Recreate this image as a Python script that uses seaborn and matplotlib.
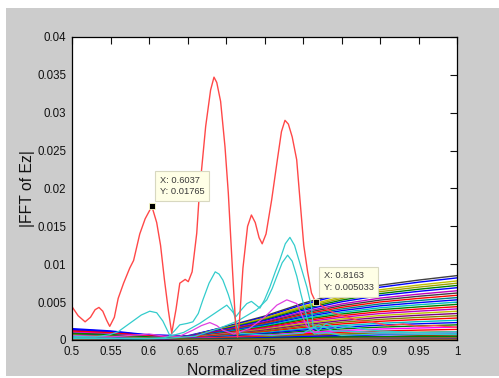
import matplotlib
matplotlib.use("Agg")
import matplotlib.pyplot as plt
from matplotlib.patches import Rectangle
import pandas as pd
import seaborn as sns

# ---------------- data ----------------
# strongest component (red)
red_x = [0.500, 0.508, 0.517, 0.524, 0.530, 0.535, 0.540, 0.545, 0.549, 0.555,
         0.560, 0.567, 0.575, 0.580, 0.588, 0.595, 0.6037, 0.610, 0.615, 0.620,
         0.625, 0.6295, 0.635, 0.640, 0.647, 0.651, 0.656, 0.662, 0.6654, 0.6736,
         0.680, 0.6844, 0.688, 0.693, 0.6987, 0.703, 0.708, 0.7125, 0.715, 0.7175,
         0.722, 0.728, 0.733, 0.738, 0.743, 0.747, 0.752, 0.7593, 0.7667, 0.772,
         0.7766, 0.781, 0.786, 0.7918, 0.7961, 0.801, 0.806, 0.811, 0.8163, 0.825,
         0.839, 0.855, 0.874, 0.890, 0.910, 0.930, 0.950, 0.970, 1.000]
red_y = [0.0044, 0.0032, 0.0024, 0.0030, 0.0040, 0.0043, 0.0038, 0.0026, 0.0018, 0.0030,
         0.0055, 0.0075, 0.0095, 0.0105, 0.0140, 0.0160, 0.01765, 0.0155, 0.0125, 0.0080,
         0.0040, 0.0009, 0.0040, 0.0075, 0.0080, 0.0077, 0.0090, 0.0141, 0.0194, 0.0282,
         0.0330, 0.0347, 0.0340, 0.0315, 0.0255, 0.0194, 0.0100, 0.0020, 0.0004, 0.0025,
         0.0095, 0.0150, 0.0165, 0.0155, 0.0135, 0.0127, 0.0140, 0.0185, 0.0238, 0.0275,
         0.0290, 0.0285, 0.0268, 0.0238, 0.0185, 0.0125, 0.0090, 0.0062, 0.005033, 0.0045,
         0.0036, 0.0031, 0.0025, 0.0024, 0.0019, 0.0021, 0.0018, 0.0019, 0.0017]

# cyan components
cyan_a_x = [0.500, 0.530, 0.549, 0.560, 0.575, 0.590, 0.601, 0.610, 0.618, 0.627,
            0.633, 0.640, 0.650, 0.657, 0.664, 0.670, 0.678, 0.686, 0.691, 0.696,
            0.703, 0.709, 0.714, 0.718, 0.730, 0.760, 0.800, 0.820, 0.840, 0.900, 1.000]
cyan_a_y = [0.0005, 0.0004, 0.0007, 0.0011, 0.0022, 0.0033, 0.0038, 0.0036, 0.0025, 0.0006,
            0.0012, 0.0020, 0.0022, 0.0024, 0.0035, 0.0053, 0.0075, 0.0090, 0.0087, 0.0079,
            0.0060, 0.0040, 0.0020, 0.0009, 0.0008, 0.0006, 0.0009, 0.0020, 0.0012, 0.0010, 0.0009]

cyan_b_x = [0.500, 0.600, 0.620, 0.645, 0.666, 0.685, 0.701, 0.708, 0.713, 0.720,
            0.727, 0.733, 0.738, 0.744, 0.750, 0.757, 0.764, 0.770, 0.777, 0.783,
            0.789, 0.796, 0.805, 0.811, 0.813, 0.820, 0.830, 0.845, 0.860, 0.880,
            0.900, 0.950, 1.000]
cyan_b_y = [0.0003, 0.0002, 0.0003, 0.0010, 0.0022, 0.0035, 0.0046, 0.0038, 0.0031, 0.0040,
            0.0048, 0.0051, 0.0047, 0.0042, 0.0053, 0.0070, 0.0090, 0.0106, 0.0127, 0.01355,
            0.0125, 0.0101, 0.0070, 0.0044, 0.0018, 0.0012, 0.0022, 0.0015, 0.0018, 0.0014,
            0.0012, 0.0010, 0.0011]

cyan_c_x = [0.500, 0.620, 0.660, 0.690, 0.715, 0.740, 0.753, 0.760, 0.766, 0.773,
            0.780, 0.786, 0.792, 0.797, 0.8026, 0.809, 0.815, 0.830, 0.850, 0.900, 1.000]
cyan_c_y = [0.0002, 0.0002, 0.0005, 0.0015, 0.0025, 0.0040, 0.0053, 0.0068, 0.0084, 0.0102,
            0.0112, 0.0104, 0.0084, 0.0062, 0.0040, 0.0013, 0.0008, 0.0010, 0.0006, 0.0008, 0.0007]

# magenta component
magenta_x = [0.500, 0.550, 0.600, 0.620, 0.640, 0.657, 0.668, 0.679, 0.688, 0.696,
             0.710, 0.730, 0.750, 0.766, 0.779, 0.792, 0.805, 0.820, 0.850, 0.900, 1.000]
magenta_y = [0.0006, 0.0004, 0.0008, 0.0005, 0.0005, 0.0013, 0.0019, 0.0023, 0.0019, 0.0013,
             0.0008, 0.0015, 0.0030, 0.0046, 0.0053, 0.0048, 0.0018, 0.0008, 0.0012, 0.0009, 0.0010]

# slowly rising components, sampled on a common grid
fan_x = [0.50, 0.55, 0.60, 0.65, 0.70, 0.75, 0.80, 0.85, 0.90, 0.95, 1.00]

fan_upper = [
    [0.00020, 0.00016, 0.00009, 0.00045, 0.00179, 0.00315, 0.00485, 0.00621, 0.00723, 0.00791, 0.00850],
    [0.00150, 0.00120, 0.00068, 0.00056, 0.00172, 0.00303, 0.00467, 0.00599, 0.00697, 0.00763, 0.00820],
    [0.00050, 0.00040, 0.00023, 0.00044, 0.00164, 0.00289, 0.00445, 0.00569, 0.00663, 0.00725, 0.00780],
    [0.00120, 0.00096, 0.00054, 0.00050, 0.00158, 0.00278, 0.00428, 0.00548, 0.00638, 0.00698, 0.00750],
    [0.00080, 0.00064, 0.00036, 0.00044, 0.00151, 0.00266, 0.00410, 0.00526, 0.00612, 0.00670, 0.00720],
    [0.00140, 0.00112, 0.00063, 0.00049, 0.00145, 0.00255, 0.00393, 0.00504, 0.00587, 0.00642, 0.00690],
    [0.00100, 0.00080, 0.00045, 0.00043, 0.00137, 0.00241, 0.00371, 0.00475, 0.00553, 0.00605, 0.00650],
    [0.00030, 0.00024, 0.00014, 0.00034, 0.00130, 0.00229, 0.00353, 0.00453, 0.00527, 0.00577, 0.00620],
    [0.00110, 0.00088, 0.00050, 0.00041, 0.00124, 0.00218, 0.00336, 0.00431, 0.00502, 0.00549, 0.00590],
    [0.00060, 0.00048, 0.00027, 0.00034, 0.00118, 0.00207, 0.00319, 0.00409, 0.00476, 0.00521, 0.00560],
]
fan_middle = [
    [0.00130, 0.00104, 0.00059, 0.00040, 0.00111, 0.00196, 0.00302, 0.00387, 0.00451, 0.00493, 0.00530],
    [0.00090, 0.00072, 0.00041, 0.00034, 0.00105, 0.00185, 0.00285, 0.00365, 0.00425, 0.00465, 0.00500],
    [0.00040, 0.00032, 0.00018, 0.00028, 0.00099, 0.00174, 0.00268, 0.00343, 0.00400, 0.00437, 0.00470],
    [0.00120, 0.00096, 0.00054, 0.00034, 0.00092, 0.00163, 0.00251, 0.00321, 0.00374, 0.00409, 0.00440],
    [0.00070, 0.00056, 0.00032, 0.00028, 0.00086, 0.00152, 0.00234, 0.00299, 0.00349, 0.00381, 0.00410],
    [0.00100, 0.00080, 0.00045, 0.00029, 0.00080, 0.00141, 0.00217, 0.00277, 0.00323, 0.00353, 0.00380],
    [0.00050, 0.00040, 0.00023, 0.00023, 0.00074, 0.00130, 0.00200, 0.00256, 0.00298, 0.00326, 0.00350],
    [0.00090, 0.00072, 0.00041, 0.00025, 0.00067, 0.00118, 0.00182, 0.00234, 0.00272, 0.00298, 0.00320],
    [0.00110, 0.00088, 0.00050, 0.00026, 0.00061, 0.00107, 0.00165, 0.00212, 0.00247, 0.00270, 0.00290],
]
fan_lower = [
    [0.00030, 0.00024, 0.00014, 0.00016, 0.00055, 0.00096, 0.00148, 0.00190, 0.00221, 0.00242, 0.00260],
    [0.00080, 0.00064, 0.00036, 0.00020, 0.00048, 0.00085, 0.00131, 0.00168, 0.00196, 0.00214, 0.00230],
    [0.00060, 0.00048, 0.00027, 0.00016, 0.00042, 0.00074, 0.00114, 0.00146, 0.00170, 0.00186, 0.00200],
    [0.00100, 0.00080, 0.00045, 0.00019, 0.00036, 0.00063, 0.00097, 0.00124, 0.00145, 0.00158, 0.00170],
    [0.00040, 0.00032, 0.00018, 0.00011, 0.00029, 0.00052, 0.00080, 0.00102, 0.00119, 0.00130, 0.00140],
    [0.00070, 0.00056, 0.00032, 0.00013, 0.00023, 0.00041, 0.00063, 0.00080, 0.00094, 0.00102, 0.00110],
    [0.00050, 0.00040, 0.00023, 0.00009, 0.00017, 0.00030, 0.00046, 0.00058, 0.00068, 0.00074, 0.00080],
    [0.00090, 0.00072, 0.00041, 0.00012, 0.00011, 0.00019, 0.00029, 0.00037, 0.00043, 0.00047, 0.00050],
    [0.00060, 0.00048, 0.00027, 0.00008, 0.00006, 0.00011, 0.00017, 0.00022, 0.00026, 0.00028, 0.00030],
]
floor_lines = [
    [0.00015, 0.00012, 0.00010, 0.00008, 0.00015, 0.00020, 0.00018, 0.00022, 0.00020, 0.00018, 0.00020],
    [0.00045, 0.00035, 0.00020, 0.00010, 0.00025, 0.00045, 0.00070, 0.00060, 0.00080, 0.00065, 0.00060],
    [0.00030, 0.00028, 0.00020, 0.00015, 0.00035, 0.00040, 0.00030, 0.00050, 0.00042, 0.00048, 0.00040],
    [0.00035, 0.00025, 0.00012, 0.00006, 0.00018, 0.00022, 0.00040, 0.00030, 0.00035, 0.00040, 0.00032],
    [0.00008, 0.00006, 0.00005, 0.00004, 0.00008, 0.00010, 0.00012, 0.00010, 0.00012, 0.00010, 0.00010],
    [0.00025, 0.00020, 0.00008, 0.00005, 0.00012, 0.00028, 0.00020, 0.00035, 0.00025, 0.00030, 0.00028],
]

fan_colors = ['#404040', '#0000ff', '#bfbf00', '#a0a000', '#008000', '#0000ff', '#bf00bf',
              '#404040', '#ff0000', '#008080', '#0000ff', '#00bfbf', '#008000', '#ff0000',
              '#bf00bf', '#bfbf00', '#800080', '#808000', '#ff0000', '#00bfbf', '#0000ff',
              '#008000', '#ff00ff', '#ff0000', '#808000', '#0000ff', '#008000', '#996633']
floor_colors = ['#808000', '#ff0000', '#008000', '#800080', '#996633', '#0000ff']

x_ticks = [0.5, 0.55, 0.6, 0.65, 0.7, 0.75, 0.8, 0.85, 0.9, 0.95, 1.0]
x_tick_labels = ['0.5', '0.55', '0.6', '0.65', '0.7', '0.75', '0.8', '0.85', '0.9', '0.95', '1']
y_ticks = [0, 0.005, 0.01, 0.015, 0.02, 0.025, 0.03, 0.035, 0.04]
y_tick_labels = ['0', '0.005', '0.01', '0.015', '0.02', '0.025', '0.03', '0.035', '0.04']

data_tips = [(0.6037, 0.01765), (0.8163, 0.005033)]

# ---------------- figure ----------------
sns.set_style("white")
plt.rcParams['font.family'] = ['Liberation Sans', 'DejaVu Sans']

W, H = 499, 378
fig = plt.figure(figsize=(W / 100, H / 100), dpi=100)
fig.patch.set_facecolor('white')
fig.add_artist(Rectangle((6 / W, 2 / H), 1 - 6 / W, (H - 10) / H,
                         transform=fig.transFigure, facecolor='#cccccc',
                         edgecolor='none', zorder=-5))

ax = fig.add_axes([72 / W, 1 - 340 / H, (457 - 72) / W, (340 - 37) / H])
ax.set_facecolor('white')

# rising family + floor lines
rows = []
all_fan = fan_upper + fan_middle + fan_lower
for i, vals in enumerate(all_fan):
    for xv, yv in zip(fan_x, vals):
        rows.append({'x': xv, 'y': yv, 'line': f'f{i:02d}'})
fan_df = pd.DataFrame(rows)
fan_palette = {f'f{i:02d}': fan_colors[i] for i in range(len(all_fan))}

rows = []
for i, vals in enumerate(floor_lines):
    for xv, yv in zip(fan_x, vals):
        rows.append({'x': xv, 'y': yv, 'line': f'b{i}'})
floor_df = pd.DataFrame(rows)
floor_palette = {f'b{i}': floor_colors[i] for i in range(len(floor_lines))}

sns.lineplot(data=floor_df, x='x', y='y', hue='line', palette=floor_palette,
             estimator=None, sort=False, legend=False, lw=1.1, ax=ax)
sns.lineplot(data=fan_df, x='x', y='y', hue='line', palette=fan_palette,
             estimator=None, sort=False, legend=False, lw=1.0, ax=ax)

sns.lineplot(x=magenta_x, y=magenta_y, color='#e040e0', lw=0.9,
             estimator=None, sort=False, ax=ax)
for cx, cy in [(cyan_c_x, cyan_c_y), (cyan_b_x, cyan_b_y), (cyan_a_x, cyan_a_y)]:
    sns.lineplot(x=cx, y=cy, color='#33cccc', lw=0.9, estimator=None, sort=False, ax=ax)
sns.lineplot(x=red_x, y=red_y, color='#ff4848', lw=1.0, estimator=None, sort=False, ax=ax)

# data tips
for tx, ty in data_tips:
    ax.plot([tx], [ty], marker='s', ms=5, color='black', mec='#ffffcc', mew=0.6,
            zorder=10, clip_on=False)
    ax.annotate(f'X: {tx:g}\nY: {ty:g}', xy=(tx, ty), xytext=(8, 10),
                textcoords='offset pixels', ha='left', va='bottom',
                fontsize=6.7, color='#3a3a3a', linespacing=1.35, zorder=11,
                bbox=dict(boxstyle='square,pad=0.5', fc='#ffffe6', ec='#d8d8c0', lw=0.8))

ax.set_xlim(0.5, 1.0)
ax.set_ylim(0, 0.04)
ax.set_xticks(x_ticks)
ax.set_xticklabels(x_tick_labels)
ax.set_yticks(y_ticks)
ax.set_yticklabels(y_tick_labels)
ax.tick_params(direction='in', top=True, right=True, length=5, width=0.8,
               labelsize=8.3, colors='#111111', pad=4)
for sp in ax.spines.values():
    sp.set_visible(True)
    sp.set_color('black')
    sp.set_linewidth(0.9)

ax.set_xlabel('Normalized time steps', fontsize=11.3, color='#111111', labelpad=4)
ax.set_ylabel('|FFT of Ez|', fontsize=11.3, color='#111111', labelpad=2)

fig.savefig('out.png', dpi=100, facecolor=fig.get_facecolor())
